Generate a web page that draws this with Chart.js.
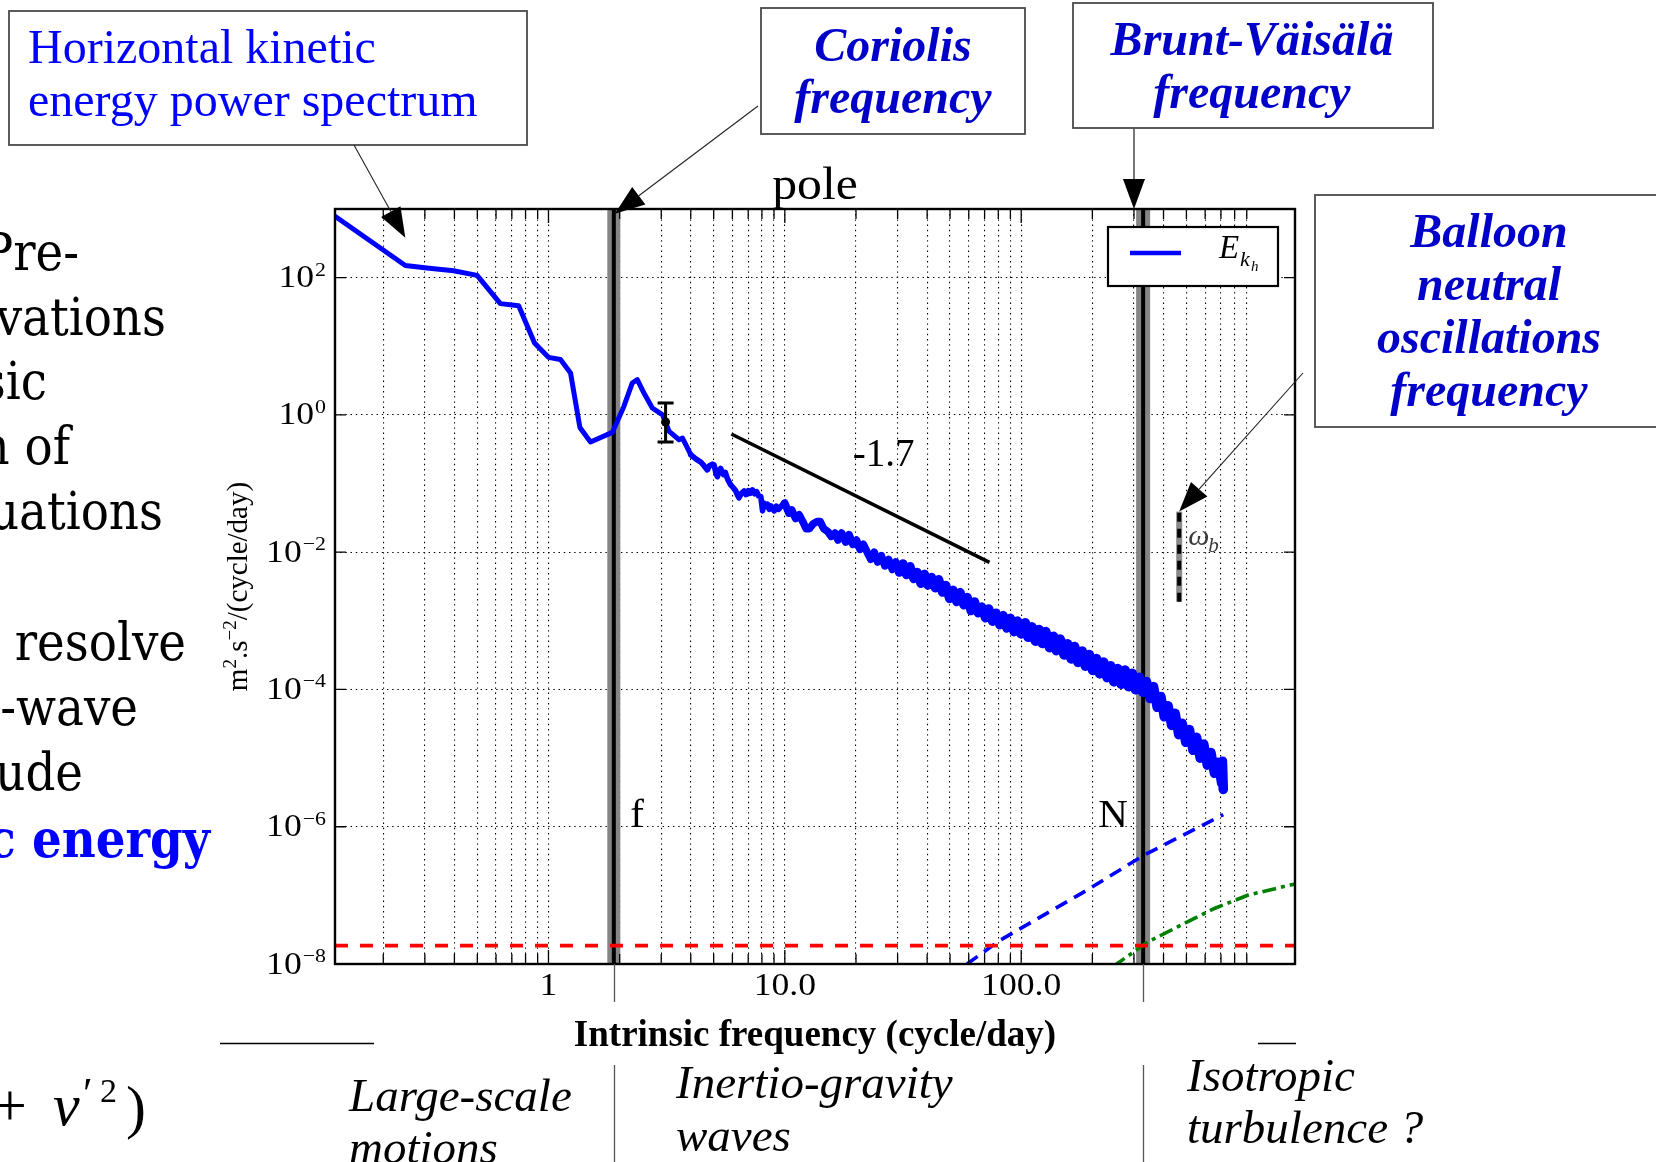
<!DOCTYPE html>
<html>
<head>
<meta charset="utf-8">
<script src="https://cdn.jsdelivr.net/npm/chart.js@4.4.1/dist/chart.umd.min.js"></script>
<style>
  html, body { margin: 0; padding: 0; background: #fff; overflow: hidden; }
  canvas { display: block; }
</style>
</head>
<body>
<canvas id="spectrum" width="1656" height="1162"></canvas>
<script>
// ---------------- axis ranges and ticks ----------------
const freqRange = [0.125, 1440];          // cycle/day
const powerRange = [1e-8, 1e3];           // m^2 s^-2 / (cycle/day)
const xMajorTicks = [1, 10, 100];
const xMajorLabels = ['1', '10.0', '100.0'];
const xMinorTicks = [0.2, 0.3, 0.4, 0.5, 0.6, 0.7, 0.8, 0.9,
                     2, 3, 4, 5, 6, 7, 8, 9,
                     20, 30, 40, 50, 60, 70, 80, 90,
                     200, 300, 400, 500, 600, 700, 800, 900];
const yTickValues = [1e-8, 1e-6, 1e-4, 1e-2, 1, 100];
const yTickExponents = ['\u22128', '\u22126', '\u22124', '\u22122', '0', '2'];

// ---------------- horizontal kinetic energy spectrum ----------------
const specFreq = [
  0.125, 0.248, 0.306, 0.397, 0.499, 0.626, 0.748, 0.873, 1.0, 1.124, 1.24, 1.358, 1.506, 1.862,
  2.085, 2.263, 2.376, 2.535, 2.75, 3.04, 3.24, 3.57, 3.69,
  4.0, 4.2, 4.41, 4.55, 4.7, 4.8, 4.94, 5.02, 5.12, 5.19, 5.27, 5.35, 5.5, 5.6, 5.72, 5.9,
  6.05, 6.19, 6.3, 6.4, 6.55, 6.72, 6.85, 7.0, 7.15, 7.3, 7.45, 7.6, 7.75, 7.91,
  8.05, 8.15, 8.3, 8.45, 8.6, 8.75, 9.02, 9.2, 9.4, 9.62, 9.8,
  10.0, 10.4, 10.7, 11.1, 11.5, 11.9, 12.3, 12.7, 13.2, 13.7, 14.1, 14.6, 15.2, 15.7, 16.3, 16.8,
  17.4, 18.1, 18.7, 19.4, 20.1, 20.8, 21.5, 22.3, 23.1, 23.9, 24.7, 25.6, 26.5, 27.5, 28.5, 29.5,
  30.5, 31.6, 32.7, 33.9, 35.1, 36.3, 37.6, 39.0, 40.3, 41.8, 43.3, 44.8, 46.4, 48.0, 49.7, 51.5,
  53.3, 55.2, 57.2, 59.2, 61.3, 63.5, 65.7, 68.1, 70.5, 73.0, 75.6, 78.3, 81.1, 84.0, 86.9, 90.0,
  93.2, 96.5, 100, 104, 107, 111, 115, 119, 123, 127, 132, 137, 141, 146, 152, 157,
  163, 168, 174, 181, 187, 194, 201, 208, 215, 223, 231, 239, 247, 256, 265, 275,
  285, 295, 305, 316, 327, 339, 351, 363, 376, 390, 403, 418, 433, 448, 464, 480,
  497, 515, 533, 552, 572, 592, 613, 635, 657, 681, 705, 710, 716
];
const specPower = [
  783, 150, 138, 126, 108, 41.8, 38.9, 11.2, 6.9, 6.4, 4.08, 0.657, 0.403, 0.556,
  1.33, 2.92, 3.26, 2.08, 1.26, 1.0, 0.575, 0.435, 0.46,
  0.263, 0.229, 0.205, 0.182, 0.158, 0.182, 0.192, 0.186, 0.138, 0.126, 0.155, 0.166, 0.135, 0.145, 0.117, 0.0955,
  0.087, 0.079, 0.068, 0.062, 0.072, 0.078, 0.069, 0.079, 0.072, 0.081, 0.071, 0.076, 0.066, 0.065,
  0.040, 0.052, 0.046, 0.050, 0.042, 0.047, 0.040, 0.047, 0.042, 0.046, 0.050,
  5.2e-2, 3.7e-2, 4.1e-2, 3.1e-2, 3.5e-2, 2.8e-2, 2.2e-2, 2.2e-2, 2.6e-2, 2.8e-2, 2.8e-2, 2.2e-2, 2.0e-2, 1.7e-2, 1.9e-2, 1.5e-2,
  1.9e-2, 1.4e-2, 1.8e-2, 1.3e-2, 1.5e-2, 1.1e-2, 1.3e-2, 1.0e-2, 7.9e-3, 1.0e-2, 7.2e-3, 8.9e-3, 6.3e-3, 7.8e-3, 5.6e-3, 7.2e-3,
  5.1e-3, 6.8e-3, 4.7e-3, 6.2e-3, 4.1e-3, 5.1e-3, 3.5e-3, 4.8e-3, 3.3e-3, 4.3e-3, 3.0e-3, 4.0e-3, 2.6e-3, 3.3e-3, 2.1e-3, 2.8e-3,
  1.9e-3, 2.6e-3, 1.7e-3, 2.2e-3, 1.4e-3, 1.9e-3, 1.3e-3, 1.6e-3, 1.1e-3, 1.5e-3, 9.8e-4, 1.3e-3, 8.7e-4, 1.2e-3, 7.8e-4, 1.1e-3,
  6.9e-4, 1.0e-3, 6.5e-4, 9.3e-4, 5.8e-4, 8.1e-4, 5.1e-4, 7.4e-4, 4.7e-4, 6.9e-4, 4.1e-4, 5.9e-4, 3.7e-4, 5.4e-4, 3.2e-4, 4.6e-4,
  2.8e-4, 4.2e-4, 2.5e-4, 3.6e-4, 2.2e-4, 3.2e-4, 1.9e-4, 2.8e-4, 1.7e-4, 2.5e-4, 1.5e-4, 2.2e-4, 1.3e-4, 2.0e-4, 1.2e-4, 1.9e-4,
  1.1e-4, 1.7e-4, 1.0e-4, 1.5e-4, 9.1e-5, 1.3e-4, 7.4e-5, 1.1e-4, 5.5e-5, 7.9e-5, 4.0e-5, 5.8e-5, 3.0e-5, 4.5e-5, 2.2e-5, 3.2e-5,
  1.7e-5, 2.6e-5, 1.3e-5, 2.0e-5, 1.0e-5, 1.6e-5, 7.9e-6, 1.2e-5, 6.0e-6, 8.7e-6, 4.3e-6, 9.0e-6, 3.5e-6
];

// reference slope (-1.7)
const slopeFreq = [5.94, 73.4];
const slopePower = [0.527, 0.00708];
const slopeText = '-1.7';
const slopeTextAt = [19.4, 0.182];

// noise floors
const noiseFreq = [0.125, 1440];
const noisePower = [1.85e-8, 1.85e-8];
const blueFloorFreq = [59, 81, 180, 333, 716];
const blueFloorPower = [1.0e-8, 2.2e-8, 1.07e-7, 3.9e-7, 1.5e-6];
const greenFloorFreq = [245, 274, 344, 461, 660, 913, 1440];
const greenFloorPower = [9.2e-9, 1.21e-8, 2.11e-8, 3.5e-8, 6.5e-8, 1.01e-7, 1.47e-7];

// characteristic frequencies
const coriolisFreq = 1.89;
const bruntFreq = 328;
const balloonFreq = 466;
const balloonSpan = [0.0019, 0.039];
const fLabelAt = [2.22, 1e-6];
const nLabelAt = [212, 1e-6];
const wbLabelAt = [509, 0.0129];

// uncertainty bar
const errFreq = 3.13;
const errPower = [0.403, 0.787, 1.49]; // low, mid, high

// callout arrow targets (data coordinates)
const hkeArrowTip = [0.248, 380];
const coriolisArrowTip = [coriolisFreq, 850];
const bruntArrowTip = [300, 1000];
const balloonArrowTip = [balloonFreq, balloonSpan[1]];

const pts = (xs, ys) => xs.map((v, i) => ({ x: v, y: ys[i] }));
const vline = (f) => [{ x: f, y: powerRange[0] }, { x: f, y: powerRange[1] }];

// the raw periodogram gets denser (and its trace thicker) towards high frequencies
const traceWidth = (f) => f < 4 ? 5 : f < 10 ? 5.6 : f < 30 ? 7.6 : f < 100 ? 9 : f < 300 ? 10 : 9.6;

const SERIF = '"Liberation Serif", "Times New Roman", serif';

function drawText(ctx, s, px, py, font, color, align, sx) {
  ctx.save();
  ctx.font = font;
  ctx.fillStyle = color;
  ctx.textAlign = align || 'left';
  ctx.textBaseline = 'alphabetic';
  ctx.translate(px, py);
  if (sx) ctx.scale(sx, 1);
  ctx.fillText(s, 0, 0);
  ctx.restore();
}

function drawArrow(ctx, x1, y1, x2, y2, color, lw, headLen, headHalf) {
  const ang = Math.atan2(y2 - y1, x2 - x1);
  const bx = x2 - headLen * Math.cos(ang), by = y2 - headLen * Math.sin(ang);
  ctx.save();
  ctx.strokeStyle = color;
  ctx.lineWidth = lw;
  ctx.beginPath(); ctx.moveTo(x1, y1); ctx.lineTo(bx, by); ctx.stroke();
  ctx.fillStyle = '#000';
  ctx.beginPath();
  ctx.moveTo(x2, y2);
  ctx.lineTo(bx + headHalf * Math.sin(ang), by - headHalf * Math.cos(ang));
  ctx.lineTo(bx - headHalf * Math.sin(ang), by + headHalf * Math.cos(ang));
  ctx.closePath(); ctx.fill();
  ctx.restore();
}

function box(ctx, x, y, w, h) {
  ctx.save();
  ctx.strokeStyle = '#4a4a4a';
  ctx.lineWidth = 1.8;
  ctx.strokeRect(x, y, w, h);
  ctx.restore();
}

const decor = {
  id: 'decor',
  afterDatasetsDraw(chart) {
    const { ctx, scales: { x, y } } = chart;
    // uncertainty bar with caps and central dot
    const ex = x.getPixelForValue(errFreq);
    const yl = y.getPixelForValue(errPower[0]);
    const ym = y.getPixelForValue(errPower[1]);
    const yh = y.getPixelForValue(errPower[2]);
    ctx.save();
    ctx.strokeStyle = '#000'; ctx.fillStyle = '#000'; ctx.lineWidth = 3;
    ctx.beginPath();
    ctx.moveTo(ex, yl); ctx.lineTo(ex, yh);
    ctx.moveTo(ex - 8, yl); ctx.lineTo(ex + 8, yl);
    ctx.moveTo(ex - 8, yh); ctx.lineTo(ex + 8, yh);
    ctx.stroke();
    ctx.beginPath(); ctx.arc(ex, ym, 4.5, 0, Math.PI * 2); ctx.fill();
    ctx.restore();
  },
  afterDraw(chart) {
    const { ctx, chartArea: a, scales: { x, y } } = chart;
    const X = (v) => x.getPixelForValue(v);
    const Y = (v) => y.getPixelForValue(v);

    // plot frame
    ctx.save();
    ctx.strokeStyle = '#000'; ctx.lineWidth = 2.4;
    ctx.strokeRect(a.left, a.top, a.right - a.left, a.bottom - a.top);
    // inward tick marks
    ctx.lineWidth = 1.3;
    ctx.beginPath();
    xMajorTicks.concat(xMinorTicks).forEach(v => {
      const px = X(v);
      const len = xMajorTicks.includes(v) ? 14 : 10;
      ctx.moveTo(px, a.bottom); ctx.lineTo(px, a.bottom - len);
      ctx.moveTo(px, a.top); ctx.lineTo(px, a.top + len);
    });
    yTickValues.forEach(v => {
      const py = Y(v);
      ctx.moveTo(a.left, py); ctx.lineTo(a.left + 11, py);
      ctx.moveTo(a.right, py); ctx.lineTo(a.right - 11, py);
    });
    ctx.stroke();
    ctx.restore();

    // tick labels
    xMajorTicks.forEach((v, i) => {
      drawText(ctx, xMajorLabels[i], X(v), a.bottom + 31, '31px ' + SERIF, '#000', 'center', 1.15);
    });
    yTickValues.forEach((v, i) => {
      const py = Y(v);
      ctx.save();
      ctx.font = '31px ' + SERIF;
      const wb = ctx.measureText('10').width * 1.15;
      ctx.font = '19px ' + SERIF;
      const we = ctx.measureText(yTickExponents[i]).width * 1.15;
      ctx.restore();
      const x0 = a.left - 9 - wb - we - 1;
      drawText(ctx, '10', x0, py + 9.5, '31px ' + SERIF, '#000', 'left', 1.15);
      drawText(ctx, yTickExponents[i], x0 + wb + 1, py - 2, '19px ' + SERIF, '#000', 'left', 1.15);
    });

    // y axis title with superscripts, rotated
    ctx.save();
    ctx.translate(247, (a.top + a.bottom) / 2);
    ctx.rotate(-Math.PI / 2);
    const parts = [
      { t: 'm', s: 29, dy: 0 }, { t: '2', s: 19, dy: -11 }, { t: '.s', s: 29, dy: 0 },
      { t: '\u22122', s: 19, dy: -11 }, { t: '/(cycle/day)', s: 29, dy: 0 }
    ];
    let total = 0;
    parts.forEach(p => { ctx.font = p.s + 'px ' + SERIF; p.w = ctx.measureText(p.t).width; total += p.w; });
    let cx = -total / 2;
    ctx.fillStyle = '#000'; ctx.textBaseline = 'alphabetic';
    parts.forEach(p => { ctx.font = p.s + 'px ' + SERIF; ctx.fillText(p.t, cx, p.dy); cx += p.w; });
    ctx.restore();

    // title above the plot
    drawText(ctx, 'pole', (a.left + a.right) / 2, a.top - 10, '46px ' + SERIF, '#000', 'center', 1.08);

    // in-plot labels
    drawText(ctx, slopeText, X(slopeTextAt[0]), Y(slopeTextAt[1]), '39px ' + SERIF, '#000', 'left');
    drawText(ctx, 'f', X(fLabelAt[0]), Y(fLabelAt[1]), '41px ' + SERIF, '#000', 'left');
    drawText(ctx, 'N', X(nLabelAt[0]), Y(nLabelAt[1]), '41px ' + SERIF, '#000', 'left');
    drawText(ctx, '\u03c9', X(wbLabelAt[0]), Y(wbLabelAt[1]), 'italic 30px ' + SERIF, '#3a3a3a', 'left');
    drawText(ctx, 'b', X(wbLabelAt[0]) + 20, Y(wbLabelAt[1]) + 7, 'italic 21px ' + SERIF, '#3a3a3a', 'left');

    // legend
    ctx.save();
    ctx.fillStyle = '#fff';
    ctx.fillRect(1108, 227, 170, 59);
    ctx.strokeStyle = '#000'; ctx.lineWidth = 2.2;
    ctx.strokeRect(1108, 227, 170, 59);
    ctx.strokeStyle = '#0000ff'; ctx.lineWidth = 4.4;
    ctx.beginPath(); ctx.moveTo(1130, 253); ctx.lineTo(1181, 253); ctx.stroke();
    ctx.restore();
    drawText(ctx, 'E', 1219, 258, 'italic 33px ' + SERIF, '#000', 'left');
    drawText(ctx, 'k', 1240, 266, 'italic 22px ' + SERIF, '#000', 'left');
    drawText(ctx, 'h', 1251, 271, 'italic 15px ' + SERIF, '#000', 'left');

    // separators of the frequency regimes
    ctx.save();
    ctx.strokeStyle = '#555'; ctx.lineWidth = 1.3;
    ctx.beginPath();
    [coriolisFreq, bruntFreq].forEach(v => {
      const px = Math.round(X(v)) + 0.5;
      ctx.moveTo(px, a.bottom); ctx.lineTo(px, 1002);
      ctx.moveTo(px, 1065); ctx.lineTo(px, 1162);
    });
    ctx.stroke();
    ctx.strokeStyle = '#000';
    ctx.beginPath();
    ctx.moveTo(220, 1043.5); ctx.lineTo(374, 1043.5);
    ctx.moveTo(1258, 1043.5); ctx.lineTo(1296, 1043.5);
    ctx.stroke();
    ctx.restore();

    // regime names
    const ital = 'italic 47px ' + SERIF;
    drawText(ctx, 'Large-scale', 349, 1111, ital, '#000');
    drawText(ctx, 'motions', 349, 1163, ital, '#000');
    drawText(ctx, 'Inertio-gravity', 676, 1098, ital, '#000');
    drawText(ctx, 'waves', 676, 1151, ital, '#000');
    drawText(ctx, 'Isotropic', 1187, 1091, ital, '#000');
    drawText(ctx, 'turbulence ?', 1187, 1143, ital, '#000');

    // callout boxes
    box(ctx, 9, 11, 518, 134);
    drawText(ctx, 'Horizontal kinetic', 28, 63, '48px ' + SERIF, '#0000ff');
    drawText(ctx, 'energy power spectrum', 28, 116, '48px ' + SERIF, '#0000ff');

    const bi = 'italic bold 48px ' + SERIF;
    const calloutBlue = '#0000c8';
    box(ctx, 761, 8, 264, 126);
    drawText(ctx, 'Coriolis', 893, 61, bi, calloutBlue, 'center');
    drawText(ctx, 'frequency', 893, 113, bi, calloutBlue, 'center');

    box(ctx, 1073, 3, 360, 125);
    drawText(ctx, 'Brunt-V\u00e4is\u00e4l\u00e4', 1252, 55, bi, calloutBlue, 'center');
    drawText(ctx, 'frequency', 1252, 108, bi, calloutBlue, 'center');

    box(ctx, 1315, 195, 360, 232);
    drawText(ctx, 'Balloon', 1489, 247, bi, calloutBlue, 'center');
    drawText(ctx, 'neutral', 1489, 300, bi, calloutBlue, 'center');
    drawText(ctx, 'oscillations', 1489, 353, bi, calloutBlue, 'center');
    drawText(ctx, 'frequency', 1489, 406, bi, calloutBlue, 'center');

    // callout arrows
    drawArrow(ctx, 354, 145, X(hkeArrowTip[0]), Y(hkeArrowTip[1]), '#222', 1.1, 30, 11);
    drawArrow(ctx, 758, 106, X(coriolisArrowTip[0]) + 1, Y(coriolisArrowTip[1]), '#222', 1.1, 30, 11);
    drawArrow(ctx, X(bruntArrowTip[0]), 128, X(bruntArrowTip[0]), Y(bruntArrowTip[1]), '#555', 1.6, 30, 11);
    drawArrow(ctx, 1303, 373, X(balloonArrowTip[0]), Y(balloonArrowTip[1]), '#222', 1.1, 30, 11);

    // slide text running along the left edge
    ctx.save();
    ctx.font = '100px "DejaVu Serif Condensed", "DejaVu Serif", serif';
    const k = 170 / ctx.measureText('resolve').width;
    ctx.restore();
    const side = Math.round(100 * k) + 'px "DejaVu Serif Condensed", "DejaVu Serif", serif';
    const sideBold = 'bold ' + side;
    const sideLines = [
      ['Pre-', 79, 270], ['vations', 166, 335], ['sic', 47, 399], ['n of', 70, 464],
      ['uations', 163, 529], ['y resolve', 186, 660], ['-wave', 138, 725], ['ude', 83, 790]
    ];
    sideLines.forEach(l => drawText(ctx, l[0], l[1], l[2], side, '#000', 'right'));
    drawText(ctx, 'c energy', 210, 857, sideBold, '#0000ff', 'right');

    // bottom-left formula fragment
    drawText(ctx, '+', 10, 1125, '60px ' + SERIF, '#000', 'center');
    drawText(ctx, 'v', 53, 1125, 'italic 60px ' + SERIF, '#000');
    drawText(ctx, '\u2032', 83, 1108, '44px ' + SERIF, '#000');
    drawText(ctx, '2', 100, 1102, '34px ' + SERIF, '#000');
    drawText(ctx, ')', 126, 1127, '60px ' + SERIF, '#000');
  }
};

const gridDash = [1.4, 3.8];

new Chart(document.getElementById('spectrum').getContext('2d'), {
  type: 'line',
  data: {
    datasets: [
      { label: 'E_kh', data: pts(specFreq, specPower), borderColor: '#0000ff', borderWidth: 5,
        borderJoinStyle: 'round', borderCapStyle: 'round', order: 0,
        segment: { borderWidth: (c) => traceWidth(c.p0.parsed.x) } },
      { label: 'slope', data: pts(slopeFreq, slopePower), borderColor: '#000', borderWidth: 3.6, order: 1 },
      { label: 'noise', data: pts(noiseFreq, noisePower), borderColor: '#ff0000', borderWidth: 3.8,
        borderDash: [13, 12], order: 2 },
      { label: 'floor blue', data: pts(blueFloorFreq, blueFloorPower), borderColor: '#0000ff', borderWidth: 3.6,
        borderDash: [13, 8], order: 2 },
      { label: 'floor green', data: pts(greenFloorFreq, greenFloorPower), borderColor: '#008000', borderWidth: 3.6,
        borderDash: [14, 5, 4, 5], order: 2 },
      { label: 'wb dash', data: [{ x: balloonFreq, y: balloonSpan[0] }, { x: balloonFreq, y: balloonSpan[1] }],
        borderColor: '#000', borderWidth: 4, borderDash: [9, 7], order: 3 },
      { label: 'wb', data: [{ x: balloonFreq, y: balloonSpan[0] }, { x: balloonFreq, y: balloonSpan[1] }],
        borderColor: '#8a8a8a', borderWidth: 6, order: 4 },
      { label: 'f', data: vline(coriolisFreq), borderColor: '#000', borderWidth: 4, order: 5 },
      { label: 'N', data: vline(bruntFreq), borderColor: '#000', borderWidth: 4, order: 5 },
      { label: 'f band', data: vline(coriolisFreq), borderColor: '#858585', borderWidth: 13, order: 6 },
      { label: 'N band', data: vline(bruntFreq), borderColor: '#858585', borderWidth: 14, order: 6 }
    ]
  },
  options: {
    responsive: false,
    animation: false,
    devicePixelRatio: 1,
    events: [],
    elements: { point: { radius: 0 }, line: { tension: 0 } },
    layout: { padding: { left: 215, top: 209, right: 361, bottom: 103 } },
    plugins: { legend: { display: false }, tooltip: { enabled: false }, title: { display: false } },
    scales: {
      x: {
        type: 'logarithmic', min: freqRange[0], max: freqRange[1], bounds: 'data',
        afterBuildTicks: (s) => {
          s.ticks = xMinorTicks.concat(xMajorTicks).sort((p, q) => p - q).map(v => ({ value: v, major: xMajorTicks.includes(v) }));
        },
        ticks: { display: false },
        grid: { color: '#000', lineWidth: 1.1, drawTicks: false },
        border: { display: false, dash: gridDash },
        title: {
          display: true, text: 'Intrinsic frequency (cycle/day)', color: '#000',
          font: { family: 'Liberation Serif', size: 37, weight: 'bold' }, padding: { top: 0, bottom: 0 }
        },
        afterFit: (s) => { s.height = 95; }
      },
      y: {
        type: 'logarithmic', min: powerRange[0], max: powerRange[1], bounds: 'data',
        afterBuildTicks: (s) => { s.ticks = yTickValues.map(v => ({ value: v })); },
        ticks: { display: false },
        grid: { color: '#000', lineWidth: 1.1, drawTicks: false },
        border: { display: false, dash: gridDash },
        afterFit: (s) => { s.width = 120; }
      }
    }
  },
  plugins: [decor]
});
</script>
</body>
</html>
